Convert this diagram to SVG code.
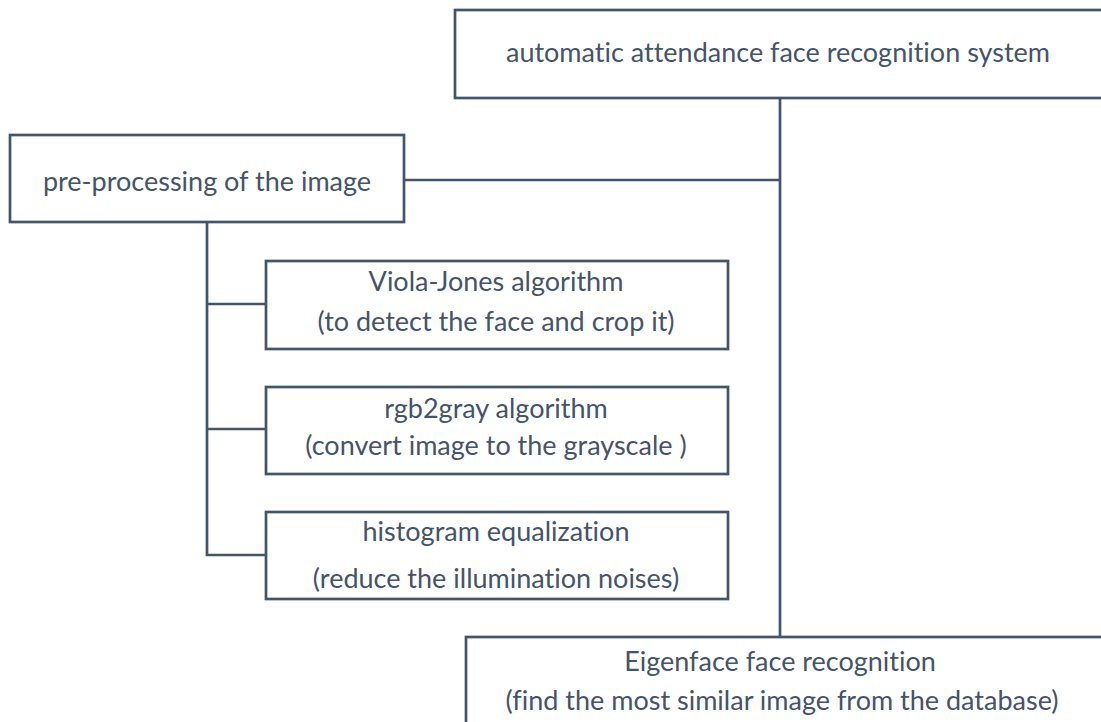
<svg xmlns="http://www.w3.org/2000/svg" width="1101" height="722" viewBox="0 0 1101 722">
<style>
.box{fill:#fff;stroke:#44546A;stroke-width:2.7}
.ln{fill:none;stroke:#44546A;stroke-width:2.7}
text{font-family:Lato,"Open Sans",sans-serif;font-size:27px;fill:#44546A;text-anchor:middle;font-variant-ligatures:none}
</style>
<rect width="1101" height="722" fill="#fff"/>
<g id="connectors">
<path class="ln" d="M780,98 V637"/>
<path class="ln" d="M404,180 H780"/>
<path class="ln" d="M207,222 V555 H266"/>
<path class="ln" d="M207,304 H266"/>
<path class="ln" d="M207,429 H266"/>
</g>
<g id="n-system"><rect class="box" x="455" y="10" width="660" height="88"/><text x="778" y="62">automatic attendance face recognition system</text></g>
<g id="n-pre"><rect class="box" x="10" y="135" width="394" height="87"/><text x="207" y="191">pre-processing of the image</text></g>
<g id="n-viola"><rect class="box" x="266" y="261" width="462" height="88"/><text x="496" y="291">Viola-Jones algorithm</text><text x="496" y="331">(to detect the face and crop it)</text></g>
<g id="n-rgb"><rect class="box" x="266" y="387" width="462" height="87"/><text x="496" y="418">rgb2gray algorithm</text><text x="496" y="455">(convert image to the grayscale )</text></g>
<g id="n-hist"><rect class="box" x="266" y="512" width="462" height="87"/><text x="496" y="541">histogram equalization</text><text x="496" y="588">(reduce the illumination noises)</text></g>
<g id="n-eigen"><rect class="box" x="466" y="637" width="650" height="100"/><text x="780" y="671">Eigenface face recognition</text><text x="782" y="710">(find the most similar image from the database)</text></g>
</svg>
